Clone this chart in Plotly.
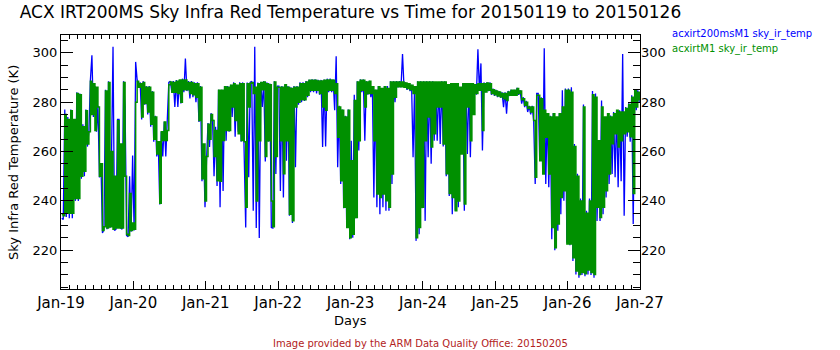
import pandas as pd
import plotly.graph_objects as go

# Day tick labels for the time axis
day_labels = ["Jan-19", "Jan-20", "Jan-21", "Jan-22", "Jan-23",
              "Jan-24", "Jan-25", "Jan-26", "Jan-27"]
day_ticks = pd.date_range("2015-01-19", periods=9, freq="D")

# Half-hourly samples, 2015-01-19 00:15 .. 2015-01-26 23:45
times = pd.date_range("2015-01-19 00:15", periods=384, freq="30min")

# acxirt200msM1 sky_ir_temp (K)
irt200ms_temp = [
    # Jan 19
    233, 232.5, 277, 233.5, 274, 233, 277, 233, 273, 240, 284, 240,
    283.5, 249, 271, 250, 277, 262, 268, 289, 299, 274, 286.5, 268,
    278.5, 249.5, 255, 227, 228.5, 285, 228.5, 288.5, 229, 258, 302.4, 228,
    228.5, 273, 273, 229, 228.5, 288.5, 278, 226, 225.5, 250, 227.5, 258.4,
    # Jan 20
    228, 296.3, 289, 286, 288, 273, 288.5, 279, 286.5, 275, 286.5, 270,
    284.5, 264, 274.5, 258, 264, 238.5, 268, 258, 272, 258, 273, 288,
    288.5, 284, 288.5, 278, 289, 278, 289, 279.5, 289.5, 284, 297.7, 284.5,
    288.5, 281.5, 288.5, 282, 288, 280, 288, 272, 286.5, 248, 263, 237.4,
    # Jan 21
    256, 271.5, 261.8, 275.5, 273, 250, 270, 246, 285, 237.4, 285, 244,
    286.5, 264.4, 286.5, 268, 287, 274, 288, 266, 287, 268, 288, 264,
    288, 262, 229.2, 288, 249.6, 288, 288.5, 236, 302.4, 229, 288, 225,
    288.2, 278, 288.5, 256, 288, 264, 287.5, 229.2, 229, 288.5, 250.9, 286.5,
    # Jan 22
    286.5, 244, 286.5, 241.4, 287, 256.3, 286.5, 234, 286, 231, 286.5, 253.6,
    286.5, 279, 288, 280, 288, 280.5, 288.5, 282, 289, 284, 289.2, 284,
    289.2, 283.5, 289, 283, 289, 261.8, 289.2, 262, 289.5, 284, 289.5, 284,
    289.2, 276.7, 298.6, 253.6, 278.5, 246.8, 277, 237, 274.5, 229, 277, 224.5,
    # Jan 23
    264.4, 225.1, 283, 233, 288.5, 260.4, 289.2, 284, 289.2, 264.4, 288.5, 283,
    288.6, 282, 286.5, 241.4, 285, 237.4, 286.5, 234.6, 285, 237.4, 286.5, 236,
    286.5, 236, 288.5, 246.8, 288.5, 280, 288.5, 286, 288.5, 286, 299.5, 286,
    288, 285, 287.5, 284.5, 287, 257.7, 286.5, 223.8, 288.5, 226.5, 288.5, 237,
    # Jan 24
    288.5, 231.9, 288.5, 257.7, 288.5, 255, 288.5, 264.4, 288.2, 264.4, 288.2, 263,
    288.5, 262, 288.5, 250, 287, 242, 287.5, 234.6, 287.5, 236, 287.5, 237.4,
    286, 259, 287.5, 236, 287.5, 259, 287.5, 257.7, 287.5, 275, 287, 283,
    301.4, 284.5, 295.7, 260.4, 288, 284, 288, 284.5, 288, 283, 285.5, 282.5,
    # Jan 25
    285, 282, 284.5, 281.8, 284, 278, 284, 275.3, 284.5, 282.5, 285, 282.5,
    285, 282.5, 285.8, 283, 284.8, 279.4, 282, 278, 280.5, 276, 278.5, 275,
    278.5, 272, 246.8, 283.5, 283.5, 256.3, 282, 250.9, 301.8, 246.8, 275.5, 245.5,
    274.5, 224.5, 275.5, 220, 273.3, 227.9, 275.5, 234.6, 284.8, 240.1, 285.5, 223,
    # Jan 26
    285.5, 222, 286, 215.6, 263, 210.2, 251, 208.9, 241, 210, 279, 209.5,
    236, 210.2, 241, 210, 284.5, 208.9, 283.5, 231.9, 263, 231.9, 280.7, 234.6,
    274, 241.4, 274.6, 246.8, 274.6, 250.9, 276, 249.6, 276.7, 245.5, 276.7, 248,
    299.5, 234, 278, 266, 279.5, 264, 282.8, 230.6, 285, 276.7, 284.8, 280,
]

# acxirtM1 sky_ir_temp (K)
irt_temp = [
    # Jan 19
    234.5, 234, 275, 235, 273, 235, 276.5, 235, 273, 241, 283.5, 241,
    283, 250, 270, 252, 276.5, 263, 268, 288.5, 275, 287.5, 268.5, 286,
    278, 250, 255, 228, 229.5, 284.5, 229, 288, 229.5, 260, 228.5, 250,
    229, 272.5, 229, 263, 229, 288, 250, 226.5, 226, 243, 228, 231,
    # Jan 20
    228.5, 280, 288.5, 286, 287.5, 274, 288, 279.5, 286, 276, 286, 271,
    284, 265, 274, 259, 264, 239, 268, 264.5, 272, 264.5, 268.5, 287,
    288.2, 284, 288, 284, 288.5, 283.5, 289, 280, 289, 285, 289, 285,
    288, 283.5, 288, 283, 287.5, 282, 287.5, 272.6, 286, 249, 263, 240,
    # Jan 21
    258, 271, 265, 275, 272.6, 258, 268.5, 248.2, 284.8, 248, 284.8, 264.5,
    286.2, 268.5, 286, 268.5, 286.8, 278, 287.5, 272.6, 286.8, 267.2, 287.5, 264.5,
    287.5, 264, 237.4, 287.5, 278, 287.7, 288, 283.5, 286, 240, 287.5, 264.4,
    288, 285, 288.2, 258, 287.5, 264.4, 287, 240, 229.5, 288.2, 258, 286,
    # Jan 22
    286, 264.4, 286, 251, 287, 264.4, 286, 234.6, 285.5, 231.9, 286, 278,
    286, 280, 287.5, 281, 287.5, 281, 288.2, 282.8, 288.9, 284.8, 288.9, 284.8,
    288.9, 284.8, 288.6, 283.5, 288.6, 278, 288.9, 276.7, 289, 284.8, 289, 284.8,
    288.9, 283.5, 287.5, 265.8, 278, 248.2, 276.7, 237.4, 274, 229.2, 276.7, 225.1,
    # Jan 23
    256.3, 226.5, 280.7, 233.3, 288.2, 264.4, 288.9, 284.8, 288.9, 278, 288.2, 283.5,
    288.5, 283.5, 286.2, 264.4, 284.8, 242.8, 286.2, 241.4, 285.5, 242.8, 286.2, 240.1,
    285.5, 237.4, 288.2, 250.9, 288.2, 282, 288.2, 286.2, 288.2, 286.2, 288.2, 286,
    287.8, 285.5, 287.5, 285, 286.8, 283.5, 286.2, 225.1, 288.2, 229.2, 288.2, 237.4,
    # Jan 24
    288.2, 264.4, 288.2, 274, 288.2, 261.8, 288.2, 267.2, 288.2, 278, 288.2, 278,
    288.2, 263, 288.2, 251, 287, 243, 287.5, 241.4, 287.5, 236, 287.5, 240,
    286, 259, 287.5, 238.7, 287.5, 278, 287.5, 264.4, 287.5, 275, 287, 283.5,
    287.5, 284.8, 287.5, 268.5, 287.5, 284.1, 287.8, 284.8, 287.5, 283.5, 285, 283,
    # Jan 25
    284.5, 282.5, 284.1, 282.1, 283.5, 281.4, 283.5, 280.7, 284.1, 282.8, 284.8, 282.8,
    284.8, 282.8, 285.5, 283.5, 284.5, 281, 281.4, 278.7, 280, 277.4, 278, 276,
    278, 272.6, 249.6, 282.8, 282.8, 256.3, 281.4, 250.9, 276.7, 265.8, 275.3, 250.9,
    274, 229.2, 275.3, 221, 274, 230.6, 275.3, 241.4, 278, 244.1, 284.8, 222.5,
    # Jan 26
    284.8, 222.5, 284, 217, 262, 211.6, 250, 210.2, 240, 211, 278, 210.5,
    235, 212, 240, 211, 283, 210.2, 282, 237.4, 264.4, 233.3, 278, 237.4,
    274, 244.1, 275.3, 250.9, 274, 263.1, 275.3, 267.2, 276.7, 261.8, 276, 264.4,
    276, 267.2, 277.4, 268, 279, 266, 282, 243, 284.8, 278, 284, 280.7,
]

y_ticks = [220, 240, 260, 280, 300]
y_range = [204.3, 307.2]

BLUE = "#0000ff"
GREEN = "#009000"
CREDIT = "#b22222"
FONT = "DejaVu Sans"

fig = go.Figure()
fig.add_trace(go.Scatter(x=times, y=irt200ms_temp, mode="lines",
                         line=dict(color=BLUE, width=1.3),
                         name="acxirt200msM1 sky_ir_temp", hoverinfo="skip"))
fig.add_trace(go.Scatter(x=times, y=irt_temp, mode="lines",
                         line=dict(color=GREEN, width=1.5, shape="hv"),
                         name="acxirtM1 sky_ir_temp", hoverinfo="skip"))
# carrier for the right-hand temperature labels
fig.add_trace(go.Scatter(x=[None], y=[None], yaxis="y2", mode="lines",
                         hoverinfo="skip"))

fig.update_layout(
    width=840, height=350,
    margin=dict(l=61, r=200, t=35, b=61),
    paper_bgcolor="white", plot_bgcolor="white",
    showlegend=False,
    font=dict(family=FONT, color="black"),
    title=dict(text="ACX IRT200MS Sky Infra Red Temperature vs Time for 20150119 to 20150126",
               x=0.5, xref="paper", xanchor="center",
               y=1 - 12 / 350, yref="container", yanchor="middle",
               font=dict(family=FONT, size=17, color="black")),
    xaxis=dict(type="date", range=["2015-01-19", "2015-01-27"],
               tickmode="array", tickvals=day_ticks, ticktext=day_labels,
               ticks="inside", ticklen=8, tickwidth=1, tickcolor="black",
               showline=True, linecolor="black", linewidth=1, mirror="ticks",
               showgrid=False, zeroline=False,
               tickfont=dict(family=FONT, size=15, color="black"),
               minor=dict(ticks="inside", ticklen=4, tickcolor="black",
                          dtick=86400000 / 9, tick0="2015-01-19",
                          showgrid=False)),
    yaxis=dict(range=y_range, tickmode="array", tickvals=y_ticks,
               ticks="inside", ticklen=12, tickwidth=1, tickcolor="black",
               showline=True, linecolor="black", linewidth=1, mirror="ticks",
               showgrid=False, zeroline=False,
               tickfont=dict(family=FONT, size=13, color="black"),
               minor=dict(ticks="inside", ticklen=7, tickcolor="black",
                          dtick=5, tick0=200, showgrid=False)),
    yaxis2=dict(range=y_range, overlaying="y", side="right", anchor="x",
                tickmode="array", tickvals=y_ticks, ticks="",
                showline=False, showgrid=False, zeroline=False,
                tickfont=dict(family=FONT, size=13, color="black")),
)

annotations = [
    dict(text="Sky Infra Red Temperature (K)", x=(13 - 61) / 579, y=(289 - 163) / 254,
         textangle=-90, font=dict(size=13)),
    dict(text="Days", x=0.5, y=(289 - 320) / 254, font=dict(size=13)),
    dict(text="Image provided by the ARM Data Quality Office: 20150205",
         x=(420 - 61) / 579, y=(289 - 343) / 254,
         font=dict(size=10, color=CREDIT)),
    dict(text="acxirt200msM1 sky_ir_temp", x=(670 - 61) / 579, y=(289 - 33.5) / 254,
         xanchor="left", font=dict(size=10, color=BLUE)),
    dict(text="acxirtM1 sky_ir_temp", x=(670 - 61) / 579, y=(289 - 48.5) / 254,
         xanchor="left", font=dict(size=10, color=GREEN)),
]
for a in annotations:
    a.setdefault("xanchor", "center")
    fig.add_annotation(xref="paper", yref="paper", yanchor="middle",
                       showarrow=False, **a)

fig.write_html("out.html")
